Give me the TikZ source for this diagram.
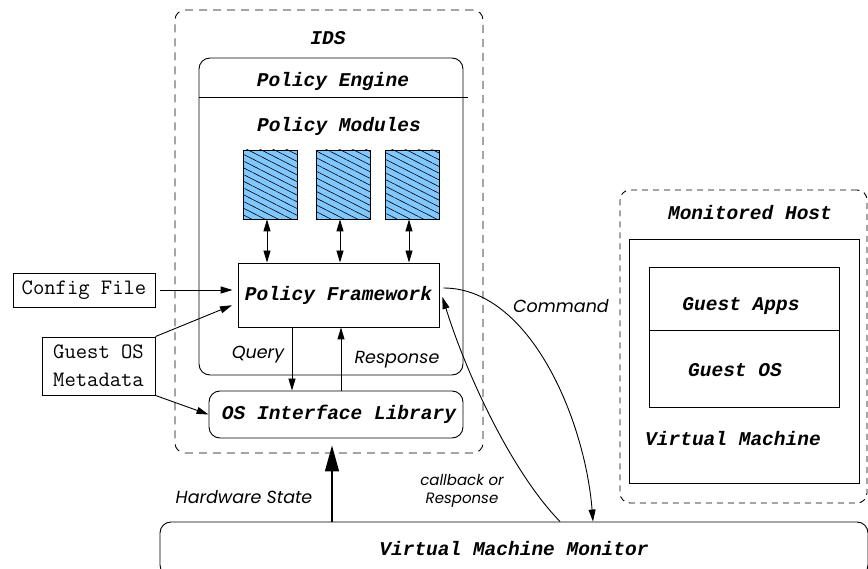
\documentclass[tikz,border=0pt]{standalone}
\usepackage{fontspec}
\newfontfamily\gothic{Poppins}
\newfontfamily\boldmono{Liberation Mono}
\usetikzlibrary{arrows.meta,patterns.meta}
\definecolor{modblue}{RGB}{128,200,255}

\begin{document}
\begin{tikzpicture}[
    x=1pt, y=-1pt, line width=0.9pt,
    box/.style={
        draw,
        rectangle,
        inner sep=0pt
    },
    rbox/.style={
        box,
        rounded corners=11pt
    },
    host box/.style={
        draw,
        rectangle,
        rounded corners=10pt,
        dash pattern=on 8pt off 6pt
    },
    title/.style={
        font=\fontsize{19.5}{22}\selectfont\boldmono\bfseries\itshape
    },
    plain/.style={
        font=\fontsize{22}{28}\selectfont\ttfamily,
        align=left
    },
    lbl/.style={
        font=\fontsize{17.5}{20}\selectfont\gothic\itshape
    },
    small lbl/.style={
        font=\fontsize{15}{18}\selectfont\gothic\itshape,
        align=center
    },
    module/.style={
        box,
        minimum width=54pt,
        minimum height=69pt,
        fill=modblue,
        postaction={pattern={Lines[angle=-27,distance=6pt,line width=0.6pt]}}
    },
    link/.style={-{Triangle[length=12pt,width=7pt]}},
    both link/.style={{Triangle[length=12pt,width=7pt]}-{Triangle[length=12pt,width=7pt]}}
]

\clip (0,0) rectangle (868,569);

% IDS
\node [host box, minimum width=308pt, minimum height=443pt] (ids) at (329,231.5) {};
\node [title] (ids-t) at (328,38) {IDS};

% Policy Engine
\node [rbox, minimum width=264pt, minimum height=317pt] (engine) at (331,216.5) {};
\node [title] (engine-t) at (333,82) {Policy Engine};
\draw (engine.west |- 0,97) -- ([xshift=5pt]engine.east |- 0,97);
\node [title] (modules-t) at (339,126) {Policy Modules};

% Policy Modules
\node [module] (m1) at (270,184.5) {};
\node [module] (m2) at (343,184.5) {};
\node [module] (m3) at (412,184.5) {};

% Policy Framework
\node [box, minimum width=201pt, minimum height=64pt, title] (pf) at (338.5,295) {Policy Framework};

% OS Interface Library
\node [rbox, minimum width=254pt, minimum height=47pt, title] (oslib) at (336,414.5) {\hspace{6pt}OS Interface Library};

% Inputs
\node [box, minimum width=142pt, minimum height=34pt, plain] (config) at (84,290) {Config File};
\node [box, minimum width=113pt, minimum height=58pt, plain] (meta) at (98.5,366) {Guest OS\\Metadata};

% Virtual Machine Monitor
\node [rbox, minimum width=708pt, minimum height=54pt, title] (vmm) at (514,549) {Virtual Machine Monitor};

% Monitored Host
\node [host box, dash pattern=on 6pt off 5pt, minimum width=247pt, minimum height=313pt] (mhost) at (743.5,346.5) {};
\node [title] (mhost-t) at (750,213) {Monitored Host};
\node [box, minimum width=230pt, minimum height=244pt] (vm) at (744,361) {};
\node [box, minimum width=190pt, minimum height=63pt] (apps) at (744,298.5) {};
\node [box, minimum width=190pt, minimum height=77pt] (gos) at (744,368.5) {};
\node [title] (apps-t) at (741,306) {Guest Apps};
\node [title] (gos-t) at (735,370) {Guest OS};
\node [title] (vm-t) at (733,439) {Virtual Machine};

% Labels
\node [lbl] (query-t) at (258,355) {Query};
\node [lbl] (resp-t) at (397,360) {Response};
\node [lbl] (cmd-t) at (561,306) {Command};
\node [lbl] (hw-t) at (244,497) {Hardware State};
\node [small lbl] (cb-t) at (462,491) {callback or\\Response};

% Draw the connections
\foreach \m in {m1,m2,m3}
    \draw [both link] ([xshift=-3pt]\m.south) -- ([xshift=-3pt]\m.south |- pf.north);

\draw [link, shorten <=5pt, shorten >=5pt] (config) -- (config -| pf.west);
\draw [link, shorten >=6pt] (meta.north east) -- ([yshift=-8pt]pf.west);
\draw [link] (meta.south east) -- (oslib.west);

\draw [link] ([xshift=-46.5pt]pf.south) -- ([xshift=-46.5pt]pf.south |- oslib.north);
\draw [link] ([xshift=5pt]oslib.north) -- ([xshift=5pt]oslib.north |- pf.south);

\draw [line width=1.5pt, -{Triangle[length=26pt,width=14pt]}, shorten >=7pt]
    ([xshift=-182pt]vmm.north) -- ([xshift=-182pt]vmm.north |- oslib.south);

\draw [link] ([xshift=4pt,yshift=7pt]pf.east) .. controls (530,288) and (585,420) .. ([xshift=79pt]vmm.north);
\draw [link] ([xshift=46pt]vmm.north) .. controls (510,470) and (465,370) .. ([xshift=3pt,yshift=-2pt]pf.east);

\end{tikzpicture}
\end{document}
